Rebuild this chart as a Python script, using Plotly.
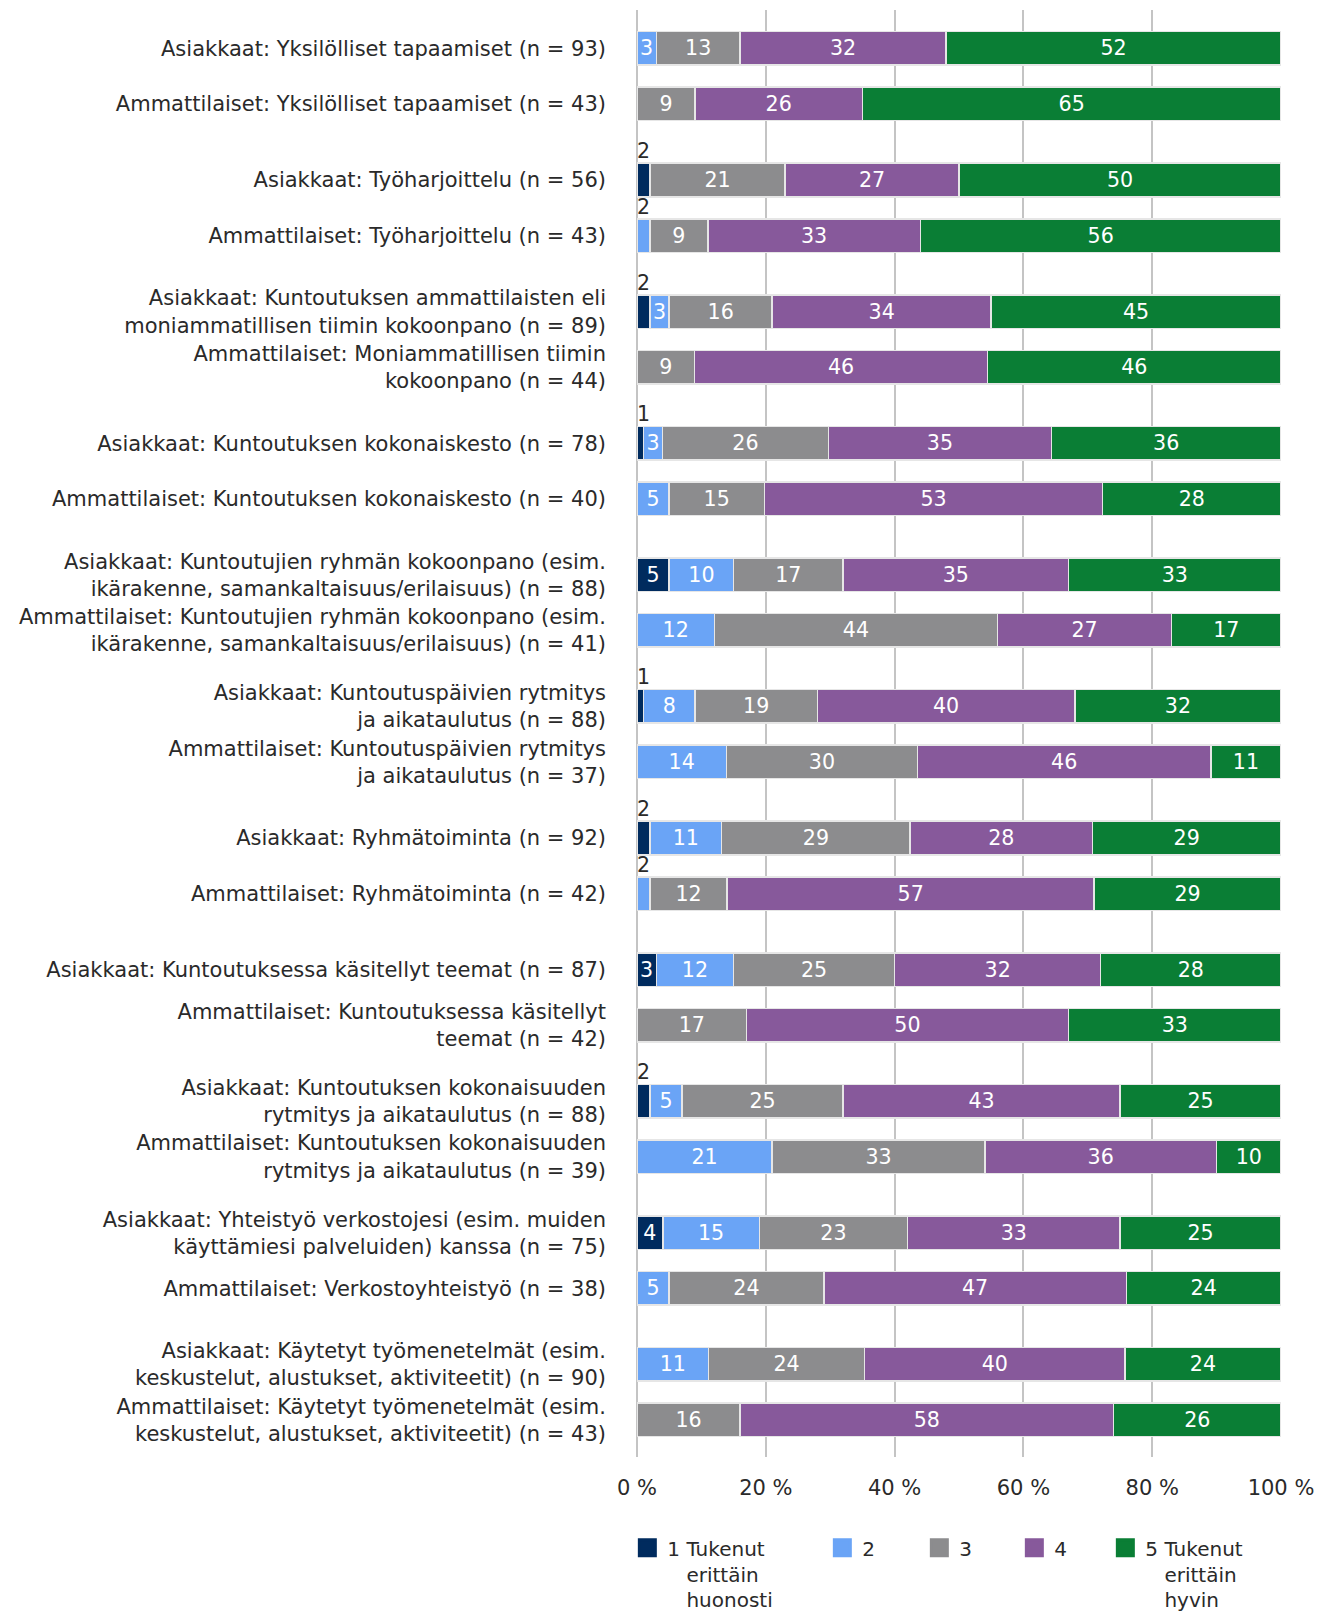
import plotly.graph_objects as go

categories = [
    "Asiakkaat: Yksilölliset tapaamiset (n = 93)",
    "Ammattilaiset: Yksilölliset tapaamiset (n = 43)",
    "Asiakkaat: Työharjoittelu (n = 56)",
    "Ammattilaiset: Työharjoittelu (n = 43)",
    "Asiakkaat: Kuntoutuksen ammattilaisten eli<br>moniammatillisen tiimin kokoonpano (n = 89)",
    "Ammattilaiset: Moniammatillisen tiimin<br>kokoonpano (n = 44)",
    "Asiakkaat: Kuntoutuksen kokonaiskesto (n = 78)",
    "Ammattilaiset: Kuntoutuksen kokonaiskesto (n = 40)",
    "Asiakkaat: Kuntoutujien ryhmän kokoonpano (esim.<br>ikärakenne, samankaltaisuus/erilaisuus) (n = 88)",
    "Ammattilaiset: Kuntoutujien ryhmän kokoonpano (esim.<br>ikärakenne, samankaltaisuus/erilaisuus) (n = 41)",
    "Asiakkaat: Kuntoutuspäivien rytmitys<br>ja aikataulutus (n = 88)",
    "Ammattilaiset: Kuntoutuspäivien rytmitys<br>ja aikataulutus (n = 37)",
    "Asiakkaat: Ryhmätoiminta (n = 92)",
    "Ammattilaiset: Ryhmätoiminta (n = 42)",
    "Asiakkaat: Kuntoutuksessa käsitellyt teemat (n = 87)",
    "Ammattilaiset: Kuntoutuksessa käsitellyt<br>teemat (n = 42)",
    "Asiakkaat: Kuntoutuksen kokonaisuuden<br>rytmitys ja aikataulutus (n = 88)",
    "Ammattilaiset: Kuntoutuksen kokonaisuuden<br>rytmitys ja aikataulutus (n = 39)",
    "Asiakkaat: Yhteistyö verkostojesi (esim. muiden<br>käyttämiesi palveluiden) kanssa (n = 75)",
    "Ammattilaiset: Verkostoyhteistyö (n = 38)",
    "Asiakkaat: Käytetyt työmenetelmät (esim.<br>keskustelut, alustukset, aktiviteetit) (n = 90)",
    "Ammattilaiset: Käytetyt työmenetelmät (esim.<br>keskustelut, alustukset, aktiviteetit) (n = 43)",
]

s1 = [0, 0, 2, 0, 2, 0, 1, 0, 5, 0, 1, 0, 2, 0, 3, 0, 2, 0, 4, 0, 0, 0]
s2 = [3, 0, 0, 2, 3, 0, 3, 5, 10, 12, 8, 14, 11, 2, 12, 0, 5, 21, 15, 5, 11, 0]
s3 = [13, 9, 21, 9, 16, 9, 26, 15, 17, 44, 19, 30, 29, 12, 25, 17, 25, 33, 23, 24, 24, 16]
s4 = [32, 26, 27, 33, 34, 46, 35, 53, 35, 27, 40, 46, 28, 57, 32, 50, 43, 36, 33, 47, 40, 58]
s5 = [52, 65, 50, 56, 45, 46, 36, 28, 33, 17, 32, 11, 29, 29, 28, 33, 25, 10, 25, 24, 24, 26]

series = [s1, s2, s3, s4, s5]
series_names = [
    "1 Tukenut<br>\u00a0\u00a0\u00a0erittäin<br>\u00a0\u00a0\u00a0huonosti",
    "2",
    "3",
    "4",
    "5 Tukenut<br>\u00a0\u00a0\u00a0erittäin<br>\u00a0\u00a0\u00a0hyvin",
]
colors = ["#002b5e", "#6aa4f6", "#8c8c8e", "#87599b", "#0a7e35"]
legend_widths = [150, 52, 50, 46, 100]
x_ticks = [0, 20, 40, 60, 80, 100]
x_tick_text = ["0 %", "20 %", "40 %", "60 %", "80 %", "100 %"]

FONT = "DejaVu Sans"
TXT = "#2a2a2a"
PAIR_STEP = 1.0
INNER_OFFSET = 0.422
BAR_W = 0.255

ypos = [(i // 2) * PAIR_STEP + (i % 2) * INNER_OFFSET for i in range(len(categories))]
totals = [sum(s[i] for s in series) for i in range(len(categories))]

fig = go.Figure()

small_x, small_y, small_t = [], [], []
for k, (vals, col) in enumerate(zip(series, colors)):
    texts = []
    for i, v in enumerate(vals):
        if v >= 3:
            texts.append(str(v))
        else:
            texts.append("")
            if v > 0:
                start = sum(series[j][i] for j in range(k)) / totals[i] * 100
                small_x.append(start)
                small_y.append(ypos[i] - BAR_W / 2)
                small_t.append(str(v))
    fig.add_trace(go.Bar(
        x=vals, y=ypos, orientation="h", width=BAR_W,
        marker=dict(color=col, line=dict(color="#e6e6e6", width=1.5)),
        text=texts, textposition="inside", insidetextanchor="middle",
        textangle=0, textfont=dict(color="white", size=22, family=FONT),
        showlegend=False, hoverinfo="skip",
    ))

fig.add_trace(go.Scatter(
    x=small_x, y=small_y, mode="text", text=small_t,
    textposition="top right",
    textfont=dict(color=TXT, size=20.5, family=FONT),
    showlegend=False, hoverinfo="skip", cliponaxis=False,
))

for name, col, lw in zip(series_names, colors, legend_widths):
    fig.add_trace(go.Scatter(
        x=[None], y=[None], mode="markers", name=name,
        marker=dict(symbol="square", size=16, color=col, line=dict(color=col, width=3)),
        legendwidth=lw,
    ))

y_bottom = (1457 - 48.4) / 131.6
y_top = (10 - 48.4) / 131.6

fig.update_layout(
    width=1318, height=1613,
    margin=dict(l=637, r=37, t=10, b=156, autoexpand=False),
    barmode="stack", barnorm="percent",
    plot_bgcolor="white", paper_bgcolor="white",
    font=dict(family=FONT, size=21, color=TXT),
    uniformtext=dict(minsize=20, mode="show"),
    xaxis=dict(
        range=[0, 100], tickmode="array", tickvals=x_ticks, ticktext=x_tick_text,
        showgrid=True, gridcolor="#c4c4c4", gridwidth=2,
        zeroline=True, zerolinecolor="#c4c4c4", zerolinewidth=2,
        showline=False, ticks="", ticklabelstandoff=16, automargin=False,
        tickfont=dict(size=21, family=FONT, color=TXT),
        fixedrange=True,
    ),
    yaxis=dict(
        range=[y_bottom, y_top], tickvals=ypos, ticktext=categories,
        showgrid=False, zeroline=False, showline=False, ticks="",
        ticklabelstandoff=30, automargin=False,
        tickfont=dict(size=21, family=FONT, color=TXT),
        fixedrange=True,
    ),
    legend=dict(
        orientation="h", x=-0.015, xanchor="left", y=-0.0492, yanchor="top",
        font=dict(size=20, family=FONT, color=TXT),
        valign="top", traceorder="normal",
    ),
)

fig.write_html("out.html")
